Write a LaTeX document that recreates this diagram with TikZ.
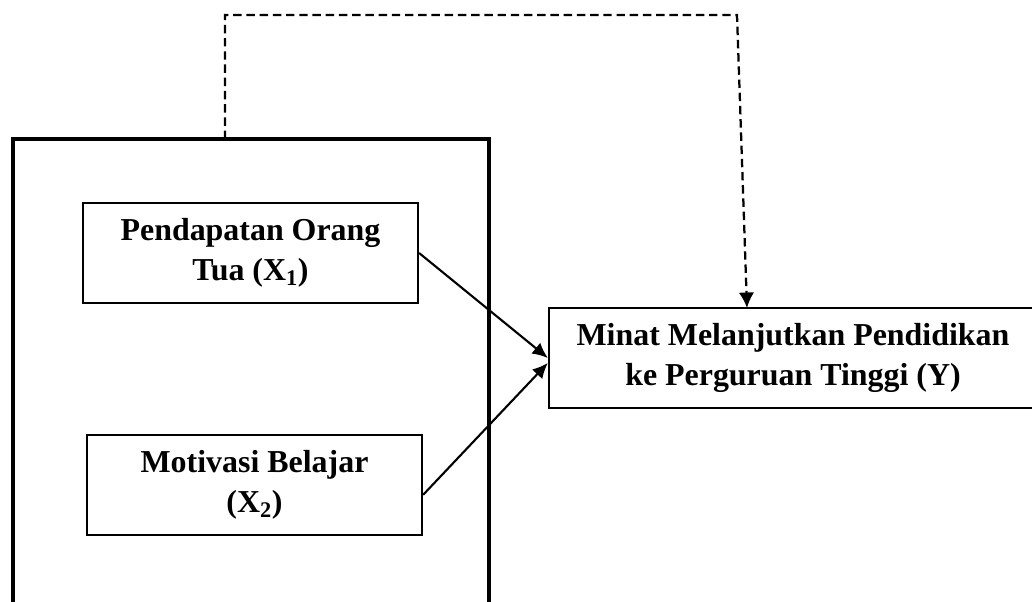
\documentclass[tikz,border=0pt]{standalone}
\usepackage{fontspec}
\setmainfont{Liberation Serif}
\usetikzlibrary{arrows.meta}
\definecolor{frame-black}{gray}{0}

\begin{document}
\begin{tikzpicture}[x=0.025cm,y=-0.025cm,font=\bfseries\fontsize{22.7}{28.5}\selectfont]
	\tikzset{var/.style={draw=frame-black,line width=1.5pt,align=center,inner sep=0pt}}
	\useasboundingbox (0,0) rectangle (1032,601);									% page
	\draw [line width=2.9pt,line join=miter] (13,620) -- (13,139) -- (489,139) -- (489,620);	% outer frame
	\node[var,minimum width=8.375cm,minimum height=2.5cm] (x1) at (250.5,253) {Pendapatan Orang\\Tua (X\textsubscript{1})};	% X1
	\node[var,minimum width=8.375cm,minimum height=2.5cm] (x2) at (254.5,485) {Motivasi Belajar\\(X\textsubscript{2})};	% X2
	\node[var,minimum width=12.2cm,minimum height=2.5cm] (y) at (793,358) {Minat Melanjutkan Pendidikan\\ke Perguruan Tinggi (Y)};	% Y
	\coordinate (top) at (225,139);												% dashed start
	\coordinate (tip) at (747,308);												% dashed end
	\draw [line width=1.5pt,-{Latex[length=11pt,width=10pt]}] (x1.east) -- ([yshift=0pt]y.west);		% X1 -> Y
	\draw [line width=1.5pt,-{Latex[length=11pt,width=10pt]}] ([yshift=-7pt]x2.east) -- ([yshift=-3.5pt]y.west);	% X2 -> Y
	\draw [line width=1.6pt,dash pattern=on 6pt off 3.4pt,-{Latex[length=11pt,width=11pt]}] (top) -- (225,15) -- (737,15) -- (tip);	% simultaneous
\end{tikzpicture}
\end{document}
